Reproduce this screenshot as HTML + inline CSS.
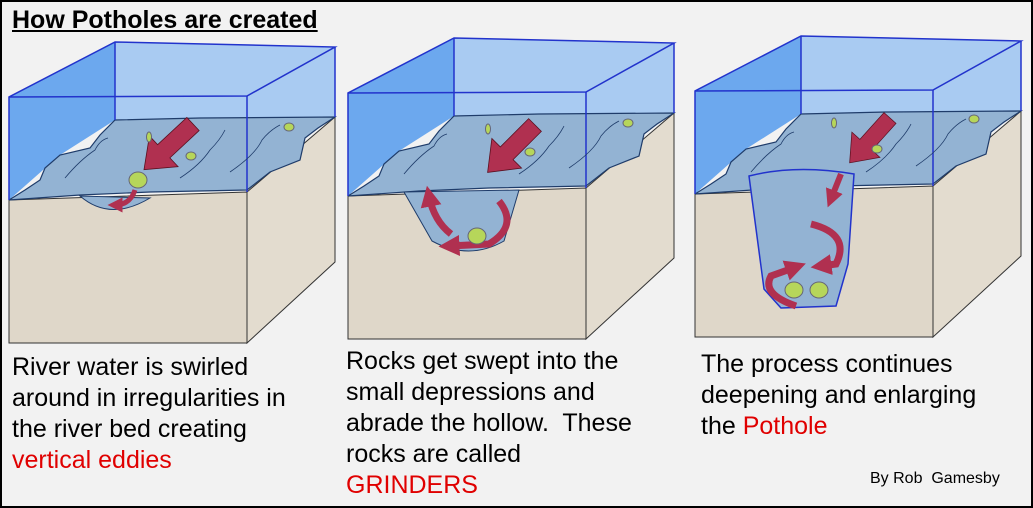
<!DOCTYPE html>
<html><head><meta charset="utf-8"><style>
body{margin:0;background:#fff}
#w{position:relative;width:1029px;height:504px;border:2px solid #000;background:#f2f2f2;overflow:hidden;font-family:"Liberation Sans",Arial,sans-serif}
.t{position:absolute;font-size:25px;line-height:31px;color:#000}
.r{color:#e00000}
</style></head><body><div id="w">
<svg width="1033" height="508" style="position:absolute;left:-2px;top:-2px">
<defs>
<marker id="mh" viewBox="0 0 10 10" refX="5" refY="5" markerWidth="3" markerHeight="3" orient="auto"><path d="M0,0 L10,5 L0,10 Z" fill="#b03050"/></marker>
<g id="blk">
 <polygon points="9,97 115,42 115,120 60,155 9,200" fill="#6ca8ee"/>
 <polygon points="115,42 335,47 335,117 115,120" fill="#a9cbf2"/>
 <polygon points="247,96 335,47 335,117 305,138 300,160 270,172 247,190" fill="#a9cbf2"/>
 <polygon points="9,200 247,192 247,343 9,343" fill="#dfd7c9" stroke="#333" stroke-width="1"/>
 <polygon points="247,192 335,117 335,262 247,343" fill="#e3dccf" stroke="#333" stroke-width="1"/>
 <polygon points="9,200 25,190 40,180 45,168 60,155 90,148 100,135 115,120 200,118 335,117 318,128 305,138 300,160 270,172 247,190 150,192 80,195" fill="#93b3d3" stroke="#1f3c6a" stroke-width="1.2"/>
 <g fill="none" stroke="#2233cc" stroke-width="1.5">
 <polyline points="9,200 9,97 115,42 335,47 247,96 9,97"/>
 <line x1="247" y1="96" x2="247" y2="192"/>
 <line x1="335" y1="47" x2="335" y2="117"/>
 <line x1="115" y1="42" x2="115" y2="120"/>
 </g>
 <g fill="none" stroke="#1f3c6a" stroke-width="0.8">
 <path d="M65,178 Q80,160 95,150 Q100,140 108,138"/><path d="M180,178 Q200,165 210,150 Q220,140 225,130"/><path d="M230,172 Q255,155 262,140 Q270,130 280,125"/>
 </g>
</g>
<polygon id="arr" points="0,-9 40,-9 40,-21 67,0 40,21 40,9 0,9" fill="#b03050" stroke="#5a1020" stroke-width="0.8"/>
</defs>
<use href="#blk"/>
<path d="M80,196 Q110,222 150,198 Z" fill="#93b3d3" stroke="#1f3c6a"/>
<use href="#arr" transform="translate(193,124) rotate(137)"/>
<path d="M135,190 Q130,205 115,205" fill="none" stroke="#b03050" stroke-width="5" marker-end="url(#mh)"/>
<ellipse cx="138" cy="180" rx="9" ry="8" fill="#b6d65a" stroke="#667"/>
<ellipse cx="149" cy="137" rx="2.5" ry="5" fill="#b6d65a" stroke="#667"/>
<ellipse cx="191" cy="156" rx="5" ry="4" fill="#b6d65a" stroke="#667"/>
<ellipse cx="289" cy="127" rx="5" ry="4" fill="#b6d65a" stroke="#667"/>
<g transform="translate(339,-4)"><use href="#blk"/>
<path d="M65,196 L93,245 Q130,265 165,245 L180,194 Z" fill="#93b3d3" stroke="#1f3c6a"/>
<use href="#arr" transform="translate(196,129) rotate(135)"/>
<path d="M112,238 Q95,225 90,200" fill="none" stroke="#b03050" stroke-width="7" marker-end="url(#mh)"/>
<path d="M160,205 Q180,230 150,248 L110,250" fill="none" stroke="#b03050" stroke-width="7" marker-end="url(#mh)"/>
<ellipse cx="138" cy="240" rx="9" ry="8" fill="#b6d65a" stroke="#667"/>
<ellipse cx="149" cy="133" rx="2.5" ry="5" fill="#b6d65a" stroke="#667"/>
<ellipse cx="191" cy="156" rx="5" ry="4" fill="#b6d65a" stroke="#667"/>
<ellipse cx="289" cy="127" rx="5" ry="4" fill="#b6d65a" stroke="#667"/>
</g>
<g transform="translate(686,-6)"><use href="#blk"/>
<path d="M63,182 Q110,170 168,180 L162,270 L150,312 L95,314 L78,295 Z" fill="#93b3d3" stroke="#2233cc" stroke-width="1.5"/>
<use href="#arr" transform="translate(204,124) rotate(132) scale(0.9)"/>
<path d="M155,180 L145,205" stroke="#b03050" stroke-width="6" marker-end="url(#mh)"/>
<path d="M125,230 Q165,240 150,270 L135,272" fill="none" stroke="#b03050" stroke-width="7" marker-end="url(#mh)"/>
<path d="M110,312 Q75,300 85,282 L110,273" fill="none" stroke="#b03050" stroke-width="7" marker-end="url(#mh)"/>
<ellipse cx="108" cy="296" rx="9" ry="8" fill="#b6d65a" stroke="#667"/>
<ellipse cx="133" cy="296" rx="9" ry="8" fill="#b6d65a" stroke="#667"/>
<ellipse cx="148" cy="129" rx="2.5" ry="5" fill="#b6d65a" stroke="#667"/>
<ellipse cx="191" cy="155" rx="5" ry="4" fill="#b6d65a" stroke="#667"/>
<ellipse cx="288" cy="125" rx="5" ry="4" fill="#b6d65a" stroke="#667"/>
</g>
</svg>
<div style="position:absolute;left:10px;top:4px;font-weight:bold;font-size:25px;text-decoration:underline">How Potholes are created</div>
<div class="t" style="left:10px;top:350px">River water is swirled<br>around in irregularities in<br>the river bed creating<br><span class="r">vertical eddies</span></div>
<div class="t" style="left:344px;top:344px">Rocks get swept into the<br>small depressions and<br>abrade the hollow.&nbsp; These<br>rocks are called<br><span class="r">GRINDERS</span></div>
<div class="t" style="left:699px;top:347px">The process continues<br>deepening and enlarging<br>the <span class="r">Pothole</span></div>
<div style="position:absolute;left:868px;top:468px;font-size:16px">By Rob&nbsp; Gamesby</div>
</div></body></html>
